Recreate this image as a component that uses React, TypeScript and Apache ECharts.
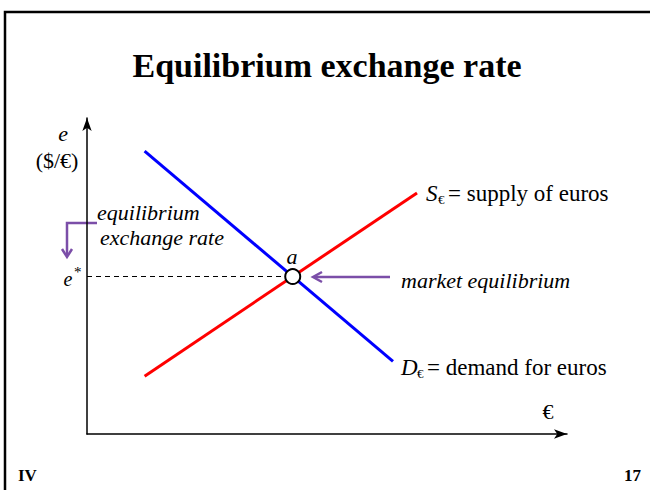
import React, { useEffect, useRef } from "react";
import * as echarts from "echarts";

// Data (chart units 0..100 on both axes)
const demandX = [12, 63.75];
const demandY = [89.5, 23];
const supplyX = [12, 68.75];
const supplyY = [18.3, 76.3];
const equilibrium = [42.86, 49.84];

const SERIF = "'Liberation Serif', 'DejaVu Serif', serif";
const PURPLE = "#7b4ea8";

export default function App() {
  const ref = useRef<HTMLDivElement>(null);
  useEffect(() => {
    if (!ref.current) return;
    const chart = echarts.init(ref.current, undefined, { renderer: "svg" });
    const axisCommon = {
      type: "value" as const,
      min: 0,
      max: 100,
      splitLine: { show: false },
      axisTick: { show: false },
      axisLabel: { show: false },
      axisLine: {
        show: true,
        symbol: ["none", "arrow"],
        symbolSize: [7, 13],
        lineStyle: { color: "#000", width: 1.5 },
      },
    };
    const txt = (x: number, y: number, text: string, opts: any = {}) => ({
      type: "text",
      x,
      y,
      style: {
        text,
        font: opts.font || `22px ${SERIF}`,
        fill: "#000",
        align: opts.align || "left",
        verticalAlign: "middle",
      },
    });
    chart.setOption({
      animation: false,
      backgroundColor: "#fff",
      grid: { left: 87, top: 118, width: 480, height: 316 },
      xAxis: axisCommon,
      yAxis: axisCommon,
      series: [
        {
          type: "line",
          data: [
            [0, equilibrium[1]],
            [equilibrium[0], equilibrium[1]],
          ],
          showSymbol: false,
          lineStyle: { color: "#000", width: 1, type: [5, 4] },
          z: 1,
        },
        {
          type: "line",
          data: demandX.map((x, i) => [x, demandY[i]]),
          showSymbol: false,
          lineStyle: { color: "#0000ff", width: 3 },
          z: 2,
        },
        {
          type: "line",
          data: supplyX.map((x, i) => [x, supplyY[i]]),
          showSymbol: false,
          lineStyle: { color: "#ff0000", width: 3 },
          z: 3,
        },
        {
          type: "scatter",
          data: [equilibrium],
          symbol: "circle",
          symbolSize: 15,
          itemStyle: { color: "#fff", borderColor: "#000", borderWidth: 2, opacity: 1 },
          z: 5,
        },
      ],
      graphic: [
        {
          type: "polyline",
          shape: { points: [[5, 490], [5, 12], [650, 12]] },
          style: { stroke: "#000", lineWidth: 2.5, fill: null },
        },
        txt(327, 65, "Equilibrium exchange rate", { font: `bold 34px ${SERIF}`, align: "center" }),
        txt(63, 133, "e", { font: `italic 22px ${SERIF}`, align: "center" }),
        txt(57, 160, "($/€)", { font: `22px ${SERIF}`, align: "center" }),
        txt(97, 212, "equilibrium", { font: `italic 22px ${SERIF}` }),
        txt(100, 237, "exchange rate", { font: `italic 22px ${SERIF}` }),
        txt(68, 279, "e", { font: `italic 20px ${SERIF}`, align: "center" }),
        txt(74, 272, "*", { font: `15px ${SERIF}`, align: "left" }),
        txt(292, 256, "a", { font: `italic 22px ${SERIF}`, align: "center" }),
        txt(426, 193, "S", { font: `italic 23px ${SERIF}` }),
        txt(438, 199, "€", { font: `13px ${SERIF}` }),
        txt(448, 193, "= supply of euros", { font: `23px ${SERIF}` }),
        txt(401, 280, "market equilibrium", { font: `italic 22px ${SERIF}` }),
        txt(401, 367, "D", { font: `italic 23px ${SERIF}` }),
        txt(417, 373, "€", { font: `13px ${SERIF}` }),
        txt(427, 367, "= demand for euros", { font: `23px ${SERIF}` }),
        txt(548, 411, "€", { font: `22px ${SERIF}`, align: "center" }),
        txt(18, 475, "IV", { font: `bold 17px ${SERIF}` }),
        txt(641, 475, "17", { font: `bold 17px ${SERIF}`, align: "right" }),
        {
          type: "polyline",
          shape: { points: [[97, 223], [67, 223], [67, 256]] },
          style: { stroke: PURPLE, lineWidth: 2.5, fill: null },
        },
        {
          type: "polyline",
          shape: { points: [[62, 249], [67, 257], [72, 249]] },
          style: { stroke: PURPLE, lineWidth: 2.5, fill: null },
        },
        {
          type: "line",
          shape: { x1: 390, y1: 277, x2: 314, y2: 277 },
          style: { stroke: PURPLE, lineWidth: 2.5 },
        },
        {
          type: "polyline",
          shape: { points: [[322, 272], [313, 277], [322, 282]] },
          style: { stroke: PURPLE, lineWidth: 2.5, fill: null },
        },
      ],
    });
    return () => chart.dispose();
  }, []);
  return (
    <div
      ref={ref}
      style={{ position: "fixed", left: 0, top: 0, width: 650, height: 490 }}
    />
  );
}
